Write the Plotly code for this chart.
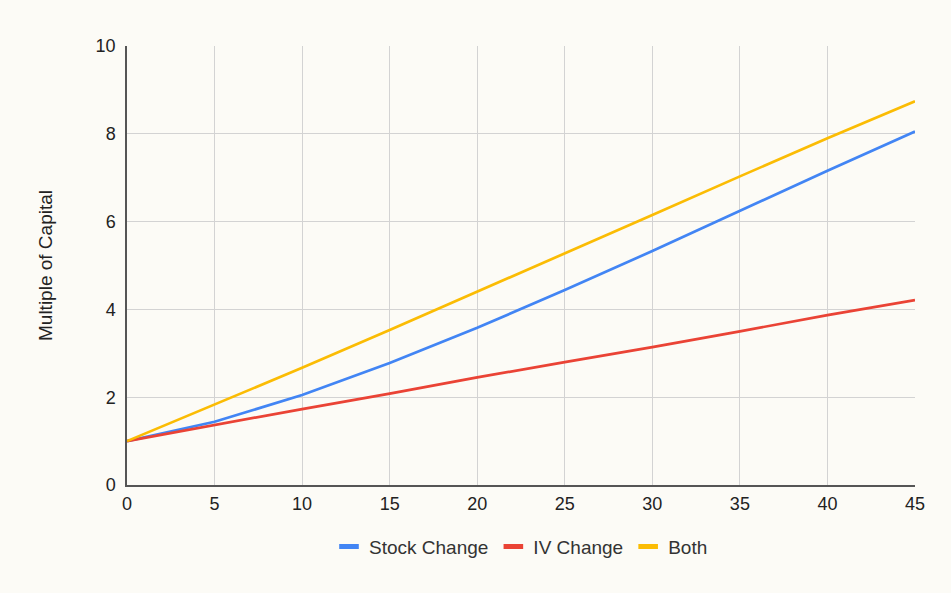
import plotly.graph_objects as go

x_days = [0, 5, 10, 15, 20, 25, 30, 35, 40, 45]
stock_change = [1.0, 1.44, 2.05, 2.78, 3.58, 4.44, 5.33, 6.24, 7.16, 8.05]
iv_change = [1.0, 1.37, 1.73, 2.08, 2.45, 2.80, 3.14, 3.50, 3.87, 4.21]
both = [1.0, 1.83, 2.67, 3.53, 4.40, 5.28, 6.15, 7.03, 7.90, 8.74]

names = ["Stock Change", "IV Change", "Both"]
colors = ["#4285F4", "#EA4335", "#FBBC04"]
series = [stock_change, iv_change, both]

bg = "#fcfbf6"
fig = go.Figure()
for n, c, s in zip(names, colors, series):
    fig.add_trace(go.Scatter(x=x_days, y=s, mode="lines", name=n,
                             line=dict(color=c, width=2.7), showlegend=False))
for n, c in zip(names, colors):
    fig.add_trace(go.Scatter(x=[None], y=[None], mode="markers", name=n,
                             marker=dict(symbol="line-ew-open", size=14, color=c,
                                         line=dict(color=c, width=5))))

fig.update_layout(
    width=951, height=593,
    paper_bgcolor=bg, plot_bgcolor=bg,
    margin=dict(l=127, r=36, t=46, b=108),
    font=dict(family="Liberation Sans, Arial, sans-serif", size=18, color="#222222"),
    legend=dict(orientation="h", x=0.5, xanchor="center", y=-0.097, yanchor="top",
                font=dict(size=19, color="#333333"), itemwidth=30),
    xaxis=dict(range=[0, 45], dtick=5, tick0=0, showgrid=True, gridcolor="#d3d3d3",
               gridwidth=1, showline=True, linecolor="#555555", linewidth=1.5,
               zeroline=False, ticks="", ticklabelstandoff=2,
               tickfont=dict(size=18)),
    yaxis=dict(range=[0, 10], dtick=2, tick0=0, showgrid=True, gridcolor="#d3d3d3",
               gridwidth=1, showline=True, linecolor="#555555", linewidth=1.5,
               zeroline=False, ticks="", ticklabelstandoff=6,
               tickfont=dict(size=18),
               title=dict(text="Multiple of Capital", font=dict(size=19, color="#222222"), standoff=38)),
)
fig.write_html("out.html")
